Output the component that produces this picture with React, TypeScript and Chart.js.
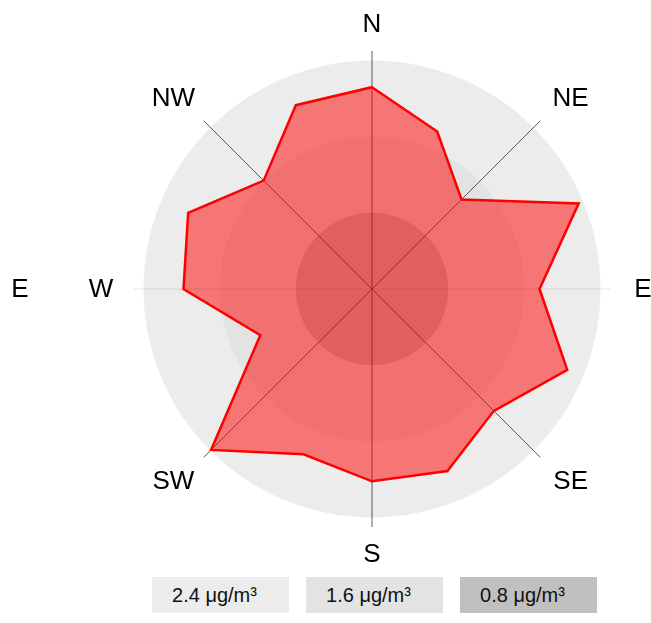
import React, { useEffect, useRef } from "react";
import { Chart, registerables } from "chart.js";

Chart.register(...registerables);

const directions = ["N", "NNE", "NE", "ENE", "E", "ESE", "SE", "SSE", "S", "SSW", "SW", "WSW", "W", "WNW", "NW", "NNW"];
const concentration = [2.12, 1.79, 1.33, 2.35, 1.76, 2.22, 1.81, 2.07, 2.02, 1.88, 2.39, 1.27, 1.98, 2.09, 1.61, 2.09];
const ringValues = [2.4, 1.6, 0.8];
const ringColors = ["#ececec", "#e3e3e3", "#c0c0c0"];
const ringLabels = ["2.4 μg/m³", "1.6 μg/m³", "0.8 μg/m³"];
const shownLabels = ["N", "NE", "E", "SE", "S", "SW", "W", "NW"];
const extraLabel = { text: "E", at: "W" };

const ringsPlugin = {
  id: "rings",
  beforeDraw(chart: any) {
    const s = chart.scales.r;
    const ctx = chart.ctx;
    ctx.save();
    ringValues.forEach((v, i) => {
      ctx.beginPath();
      ctx.arc(s.xCenter, s.yCenter, s.getDistanceFromCenterForValue(v), 0, Math.PI * 2);
      ctx.fillStyle = ringColors[i];
      ctx.fill();
    });
    ctx.restore();
  },
};

const labelsPlugin = {
  id: "dirLabels",
  afterDraw(chart: any) {
    const s = chart.scales.r;
    const ctx = chart.ctx;
    ctx.save();
    ctx.font = "26px 'Liberation Sans', Arial, sans-serif";
    ctx.fillStyle = "#000";
    ctx.textAlign = "center";
    ctx.textBaseline = "middle";
    const put = (text: string, idx: number, rx: number, ry: number) => {
      const a = s.getIndexAngle(idx) - Math.PI / 2;
      const c = Math.cos(a);
      const sn = Math.sin(a);
      const diag = Math.abs(c) > 0.1 && Math.abs(sn) > 0.1;
      const x = s.xCenter + c * rx + (diag ? Math.sign(c) * 7 : 0);
      const y = s.yCenter + sn * ry + (diag ? Math.sign(sn) * 4 : 0);
      ctx.fillText(text, x, y + 1);
    };
    shownLabels.forEach((t) => put(t, directions.indexOf(t), s.drawingArea + 33, s.drawingArea + 27));
    put(extraLabel.text, directions.indexOf(extraLabel.at), s.drawingArea + 114, s.drawingArea + 27);
    ctx.restore();
  },
};

export default function App() {
  const ref = useRef<HTMLCanvasElement>(null);
  useEffect(() => {
    const prevMargin = document.body.style.margin;
    document.body.style.margin = "0";
    if (!ref.current) return;
    const chart = new Chart(ref.current, {
      type: "radar",
      data: {
        labels: directions,
        datasets: [
          {
            data: concentration,
            borderColor: "#ff0000",
            borderWidth: 2.5,
            backgroundColor: "rgba(255,0,0,0.5)",
            fill: true,
            pointRadius: 0,
            pointHoverRadius: 0,
            tension: 0,
          },
        ],
      },
      options: {
        animation: false,
        responsive: false,
        maintainAspectRatio: false,
        devicePixelRatio: 1,
        layout: { padding: { left: 101, right: 8, top: 51, bottom: 41 } },
        plugins: { legend: { display: false }, tooltip: { enabled: false } },
        scales: {
          r: {
            min: 0,
            max: 2.5,
            ticks: { display: false },
            grid: { display: false },
            pointLabels: { display: false },
            angleLines: {
              display: true,
              lineWidth: 1,
              color: (ctx: any) => {
                const i = ctx.index;
                if (i % 2 === 1) return "rgba(0,0,0,0)";
                if (i === 4 || i === 12) return "rgba(0,0,0,0.1)";
                return "rgba(40,40,40,0.75)";
              },
            },
          },
        },
      },
      plugins: [ringsPlugin, labelsPlugin],
    });
    return () => {
      chart.destroy();
      document.body.style.margin = prevMargin;
    };
  }, []);

  return (
    <div style={{ position: "relative", width: 651, height: 621 }}>
      <canvas
        ref={ref}
        width={651}
        height={568}
        style={{ position: "absolute", left: 0, top: 0, display: "block", width: 651, height: 568 }}
      />
      <div style={{ position: "absolute", top: 577, left: 152, display: "flex", gap: 17 }}>
        {ringLabels.map((t, i) => (
          <div
            key={t}
            style={{
              width: 137,
              height: 36,
              flex: "none",
              boxSizing: "border-box",
              paddingRight: 12,
              background: ringColors[i],
              display: "flex",
              alignItems: "center",
              justifyContent: "center",
              fontFamily: "'Liberation Sans', Arial, sans-serif",
              fontSize: 20,
              color: "#111",
            }}
          >
            {t}
          </div>
        ))}
      </div>
    </div>
  );
}
